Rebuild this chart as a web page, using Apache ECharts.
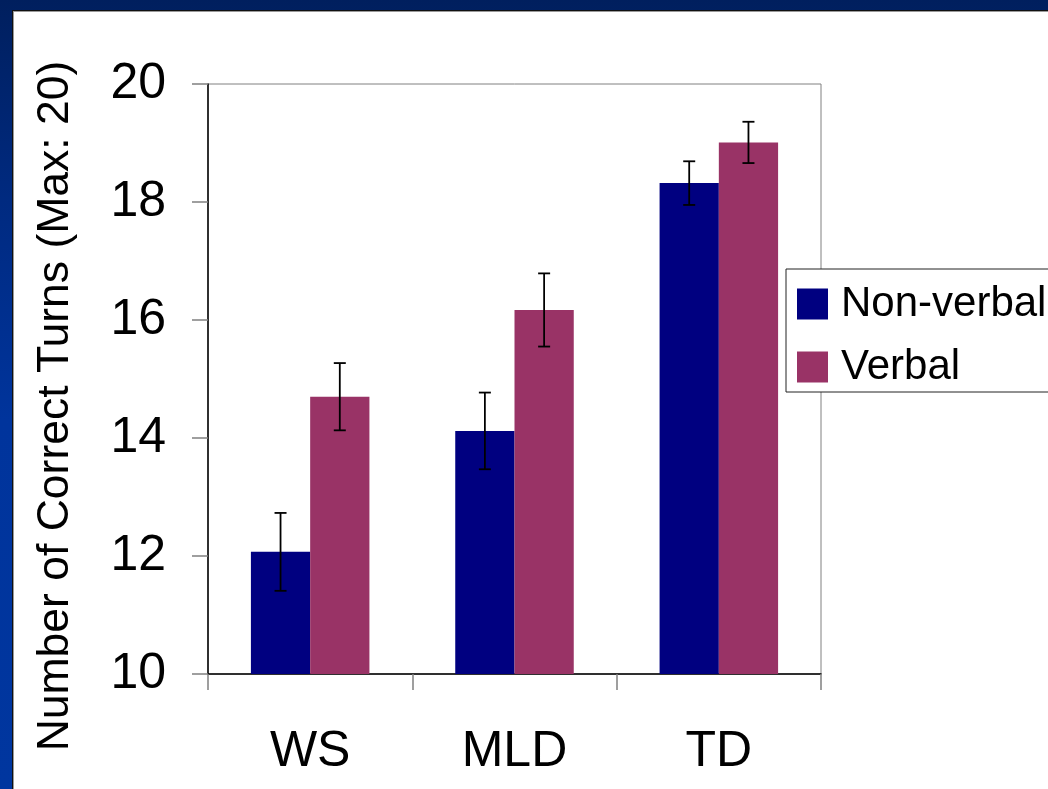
<!DOCTYPE html>
<html>
<head>
<meta charset="utf-8">
<script src="https://cdn.jsdelivr.net/npm/echarts@6/dist/echarts.min.js"></script>
<style>
  html, body { margin: 0; padding: 0; width: 1048px; height: 789px; overflow: hidden; }
  body { background: linear-gradient(to bottom, #001f5e 0px, #002a80 200px, #00349c 420px, #00369f 789px); position: relative; }
  #panel { position: absolute; left: 12px; top: 10px; width: 1100px; height: 850px; background: #ffffff;
           border-left: 1px solid #111; border-top: 1px solid #111; box-shadow: inset 1px 1px 0 #9a9a9a; }
  #chart { position: absolute; left: 0; top: 0; width: 1048px; height: 789px; }
</style>
</head>
<body>
<div id="panel"></div>
<div id="chart"></div>
<script>
// Group labels and mean scores with standard-error half widths
const categories = ['WS', 'MLD', 'TD'];
const seriesNames = ['Non-verbal', 'Verbal'];
const nonVerbal = [12.07, 14.12, 18.32];
const verbal = [14.70, 16.17, 19.01];
const nonVerbalErr = [0.66, 0.65, 0.37];
const verbalErr = [0.57, 0.62, 0.35];
const yTicks = { min: 10, max: 20, interval: 2 };
const yAxisTitle = 'Number of Correct Turns (Max: 20)';

const FONT = "'Liberation Sans', Arial, sans-serif";
const BAR_FRAC = 0.29;

function errorSeries(means, errs, side) {
  return {
    type: 'custom',
    z: 5,
    silent: true,
    encode: { x: 0, y: 1 },
    data: means.map((m, i) => [i, m, errs[i]]),
    renderItem: function (params, api) {
      const idx = api.value(0);
      const mean = api.value(1);
      const err = api.value(2);
      const band = api.size([1, 0])[0];
      const dx = side * band * BAR_FRAC / 2;
      const hi = api.coord([idx, mean + err]);
      const lo = api.coord([idx, mean - err]);
      const x = hi[0] + dx;
      const cap = 6;
      const st = { stroke: '#000', lineWidth: 1.8 };
      return {
        type: 'group',
        children: [
          { type: 'line', shape: { x1: x, y1: hi[1], x2: x, y2: lo[1] }, style: st },
          { type: 'line', shape: { x1: x - cap, y1: hi[1], x2: x + cap, y2: hi[1] }, style: st },
          { type: 'line', shape: { x1: x - cap, y1: lo[1], x2: x + cap, y2: lo[1] }, style: st }
        ]
      };
    }
  };
}

const chart = echarts.init(document.getElementById('chart'), null, { renderer: 'canvas' });
chart.setOption({
  backgroundColor: 'transparent',
  animation: false,
  textStyle: { fontFamily: FONT },
  grid: {
    left: 208, top: 84, right: 227, bottom: 115,
    show: true, borderColor: '#808080', borderWidth: 1, backgroundColor: 'transparent'
  },
  legend: {
    data: seriesNames,
    orient: 'vertical',
    left: 786, top: 269,
    padding: [14, 40, 4, 11],
    itemGap: 21,
    itemWidth: 31, itemHeight: 31,
    icon: 'rect',
    borderColor: '#222', borderWidth: 1,
    backgroundColor: '#fff',
    textStyle: { fontSize: 42, lineHeight: 42, color: '#000', fontFamily: FONT, padding: [0, 0, 0, 8] }
  },
  xAxis: {
    type: 'category',
    data: categories,
    axisLine: { lineStyle: { color: '#000', width: 1.5 } },
    axisTick: { show: true, length: 16, lineStyle: { color: '#808080', width: 1.5 } },
    axisLabel: { fontSize: 50, color: '#000', margin: 53, fontFamily: FONT },
    splitLine: { show: false }
  },
  yAxis: {
    type: 'value',
    min: yTicks.min, max: yTicks.max, interval: yTicks.interval,
    axisLine: { show: true, lineStyle: { color: '#000', width: 1.5 } },
    axisTick: { show: true, length: 16, lineStyle: { color: '#808080', width: 1.5 } },
    axisLabel: { fontSize: 50, color: '#000', margin: 42, fontFamily: FONT },
    splitLine: { show: false }
  },
  graphic: [{
    type: 'text',
    x: 55.5, y: 406,
    rotation: Math.PI / 2,
    style: {
      text: yAxisTitle,
      fontSize: 44.5,
      fontFamily: FONT,
      fill: '#000',
      textAlign: 'center',
      textVerticalAlign: 'middle'
    }
  }],
  series: [
    {
      name: seriesNames[0], type: 'bar', data: nonVerbal,
      barWidth: (BAR_FRAC * 100) + '%', barGap: '0%',
      itemStyle: { color: '#000080' }
    },
    {
      name: seriesNames[1], type: 'bar', data: verbal,
      barWidth: (BAR_FRAC * 100) + '%', barGap: '0%',
      itemStyle: { color: '#993366' }
    },
    errorSeries(nonVerbal, nonVerbalErr, -1),
    errorSeries(verbal, verbalErr, 1)
  ]
});
</script>
</body>
</html>
